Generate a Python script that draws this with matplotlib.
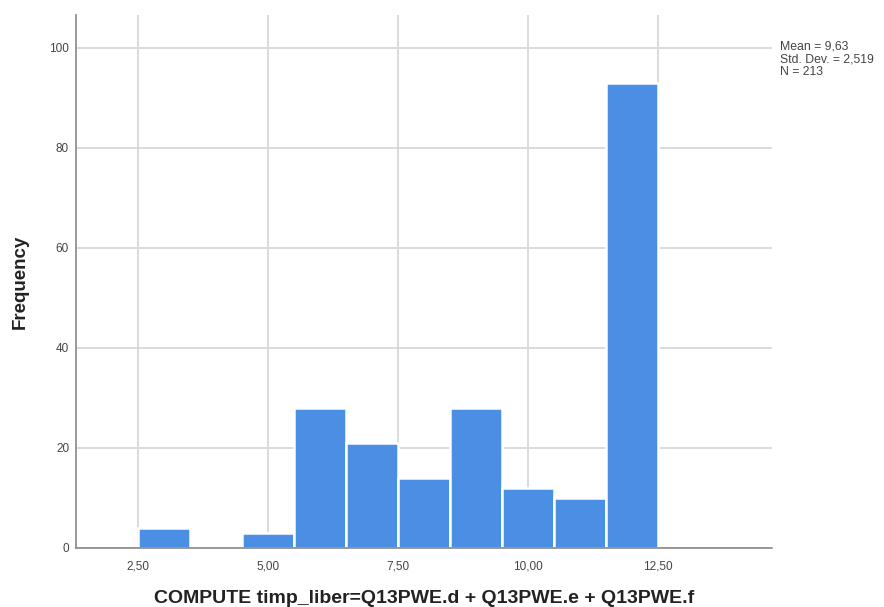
import matplotlib
matplotlib.use("Agg")
import matplotlib.pyplot as plt

# Data
bin_centers = [3, 4, 5, 6, 7, 8, 9, 10, 11, 12]
counts = [4, 0, 3, 28, 21, 14, 28, 12, 10, 93]
x_ticks = [2.5, 5.0, 7.5, 10.0, 12.5]
x_tick_labels = ["2,50", "5,00", "7,50", "10,00", "12,50"]
y_ticks = [0, 20, 40, 60, 80, 100]
stats_text = "Mean = 9,63\nStd. Dev. = 2,519\nN = 213"
x_label = "COMPUTE timp_liber=Q13PWE.d + Q13PWE.e + Q13PWE.f"
y_label = "Frequency"

plt.rcParams['font.family'] = ['Liberation Sans', 'DejaVu Sans']

fig = plt.figure(figsize=(8.84, 6.07), dpi=100)
ax = fig.add_axes([0.086, 0.0972, 0.787, 0.878])

ax.bar(bin_centers, counts, width=1.0, color='#4A8FE3', edgecolor='white',
       linewidth=1.8, zorder=3)

ax.set_xlim(1.31, 14.69)
ax.set_ylim(0, 106.5)
ax.set_xticks(x_ticks)
ax.set_xticklabels(x_tick_labels)
ax.set_yticks(y_ticks)
ax.tick_params(axis='both', length=0, labelsize=8.5, colors='#444444')
ax.tick_params(axis='x', pad=9)
ax.tick_params(axis='y', pad=5)

ax.grid(True, color='#d8d8d8', linewidth=1.3, zorder=0)
ax.set_axisbelow(True)

for s in ['top', 'right']:
    ax.spines[s].set_visible(False)
for s in ['left', 'bottom']:
    ax.spines[s].set_color('#888888')
    ax.spines[s].set_linewidth(1.2)
    ax.spines[s].set_zorder(5)

fig.text(0.4796, 0.0066, x_label, fontsize=14, fontweight='bold',
         ha='center', va='baseline', color='#222222')
fig.text(20 / 884, 0.536, y_label, fontsize=13.5, fontweight='bold',
         ha='center', va='center', rotation=90, color='#222222')

fig.text(0.882, 0.933, stats_text, fontsize=8.8, va='top', ha='left',
         color='#444444', linespacing=1.05)

fig.savefig("out.png", dpi=100)
